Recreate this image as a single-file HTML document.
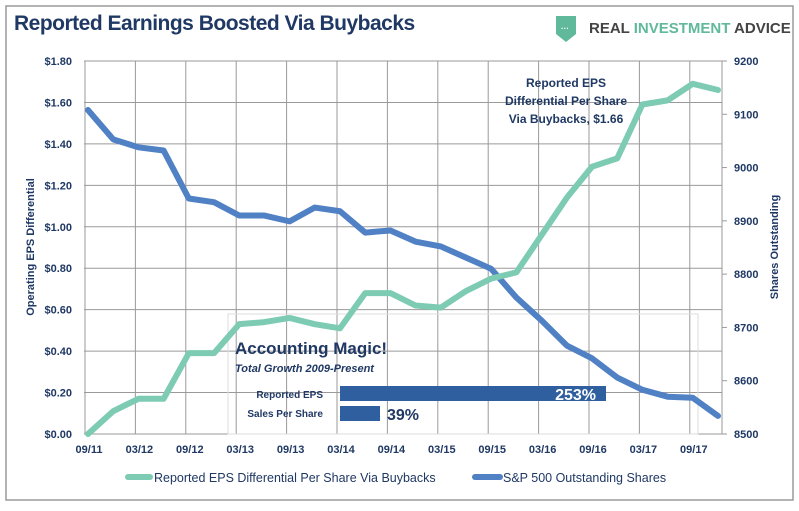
<!DOCTYPE html>
<html><head><meta charset="utf-8"><style>
body{margin:0;background:#fff;width:799px;height:506px;overflow:hidden;font-family:"Liberation Sans",sans-serif}
</style></head><body>
<svg width="799" height="506" xmlns="http://www.w3.org/2000/svg">
<rect x="6" y="6" width="787" height="494" fill="#fff" stroke="#9a9a9a" stroke-width="1.5"/>
<text x="14" y="30" font-size="21" font-weight="bold" fill="#1f3864" style="letter-spacing:-0.5px">Reported Earnings Boosted Via Buybacks</text>
<g>
<path d="M556 16 h20 v18 l-10 8 l-10 -8z" fill="#5fb99a"/>
<text x="561" y="31" font-size="8" fill="#fff" font-weight="bold">···</text>
<text x="589" y="33" font-size="15" font-weight="bold" fill="#444">REAL <tspan fill="#5fb99a">INVESTMENT</tspan> ADVICE</text>
</g>
<g id="grid"></g>
<g id="axes"></g>
<g>
<rect x="228" y="314" width="470" height="120" fill="none" stroke="#ddd"/>
<text x="235" y="354" font-size="17" font-weight="bold" fill="#1f3864">Accounting Magic!</text>
<text x="235" y="372" font-size="11" font-weight="bold" font-style="italic" fill="#1f3864">Total Growth 2009-Present</text>
<text x="323" y="398" font-size="10" font-weight="bold" fill="#1f3864" text-anchor="end">Reported EPS</text>
<text x="323" y="417" font-size="10" font-weight="bold" fill="#1f3864" text-anchor="end">Sales Per Share</text>
<rect x="340" y="386" width="266" height="15" fill="#2f5f9e"/>
<rect x="340" y="406" width="40" height="15" fill="#2f5f9e"/>
<text x="596" y="400" font-size="16" font-weight="bold" fill="#fff" text-anchor="end">253%</text>
<text x="387" y="420" font-size="16" font-weight="bold" fill="#1f3864">39%</text>
</g>
<g id="series"></g>
<text transform="translate(34,247) rotate(-90)" text-anchor="middle" font-size="11" font-weight="bold" fill="#1f3864">Operating EPS Differential</text>
<text transform="translate(778,247) rotate(-90)" text-anchor="middle" font-size="11" font-weight="bold" fill="#1f3864">Shares Outstanding</text>
<g font-size="12" font-weight="bold" fill="#1f3864" text-anchor="middle">
<text x="566" y="87">Reported EPS</text>
<text x="566" y="105">Differential Per Share</text>
<text x="566" y="123">Via Buybacks,  $1.66</text>
</g>
<g>
<line x1="128" y1="477" x2="150" y2="477" stroke="#7ecbb3" stroke-width="6" stroke-linecap="round"/>
<text x="154" y="482" font-size="12.5" fill="#1f3864">Reported EPS Differential Per Share Via Buybacks</text>
<line x1="475" y1="477" x2="500" y2="477" stroke="#4f81c4" stroke-width="6" stroke-linecap="round"/>
<text x="503" y="482" font-size="12.5" fill="#1f3864">S&amp;P 500 Outstanding Shares</text>
</g>
</svg>
<script>
const xLabels=["09/11","03/12","09/12","03/13","09/13","03/14","09/14","03/15","09/15","03/16","09/16","03/17","09/17"];
const leftTicks=[0,0.2,0.4,0.6,0.8,1.0,1.2,1.4,1.6,1.8];
const rightTicks=[8500,8600,8700,8800,8900,9000,9100,9200];
const epsDiff=[0,0.11,0.17,0.17,0.39,0.39,0.53,0.54,0.56,0.53,0.51,0.68,0.68,0.62,0.61,0.69,0.75,0.78,0.96,1.14,1.29,1.33,1.59,1.61,1.69,1.66];
const shares=[9108,9053,9038,9032,8942,8935,8910,8910,8899,8925,8918,8878,8882,8861,8852,8831,8810,8756,8713,8666,8642,8606,8583,8570,8568,8534];
const L=84,R=722,T=61,B=434;
const xq=i=>L+4+i*25.2;
const yl=v=>B-(v/1.8)*(B-T);
const yr=v=>B-((v-8500)/700)*(B-T);
const NS="http://www.w3.org/2000/svg";
function mk(tag,attrs,parent,txt){const e=document.createElementNS(NS,tag);for(const k in attrs)e.setAttribute(k,attrs[k]);if(txt!==undefined)e.textContent=txt;parent.appendChild(e);return e;}
const grid=document.getElementById('grid'),axes=document.getElementById('axes'),ser=document.getElementById('series');
leftTicks.forEach(v=>{mk('line',{x1:L,x2:R,y1:yl(v),y2:yl(v),stroke:'#9a9a9a','stroke-width':1},grid);
const t=mk('text',{x:L-12,y:yl(v)+4,'text-anchor':'end','font-size':11,'font-weight':'bold',fill:'#1f3864'},axes,'$'+v.toFixed(2));

});
rightTicks.forEach(v=>{const t=mk('text',{x:R+12,y:yr(v)+4,'font-size':11,'font-weight':'bold',fill:'#1f3864'},axes,String(v));


mk('line',{x1:R,x2:R+5,y1:yr(v),y2:yr(v),stroke:'#9a9a9a'},axes);});
xLabels.forEach((l,i)=>{const x=L+1+i*50.4;mk('line',{x1:x,x2:x,y1:T,y2:B,stroke:'#9a9a9a'},grid);
const t=mk('text',{x:x+4,y:B+19,'text-anchor':'middle','font-size':11,'font-weight':'bold',fill:'#1f3864'},axes,l);

});
mk('line',{x1:R,x2:R,y1:T,y2:B,stroke:'#9a9a9a'},grid);
const p1=mk('polyline',{points:shares.map((v,i)=>xq(i)+','+yr(v)).join(' '),fill:'none',stroke:'#4f81c4','stroke-width':6,'stroke-linejoin':'round','stroke-linecap':'round'},ser);


const p2=mk('polyline',{points:epsDiff.map((v,i)=>xq(i)+','+yl(v)).join(' '),fill:'none',stroke:'#7ecbb3','stroke-width':6,'stroke-linejoin':'round','stroke-linecap':'round'},ser);


</script>
</body></html>
